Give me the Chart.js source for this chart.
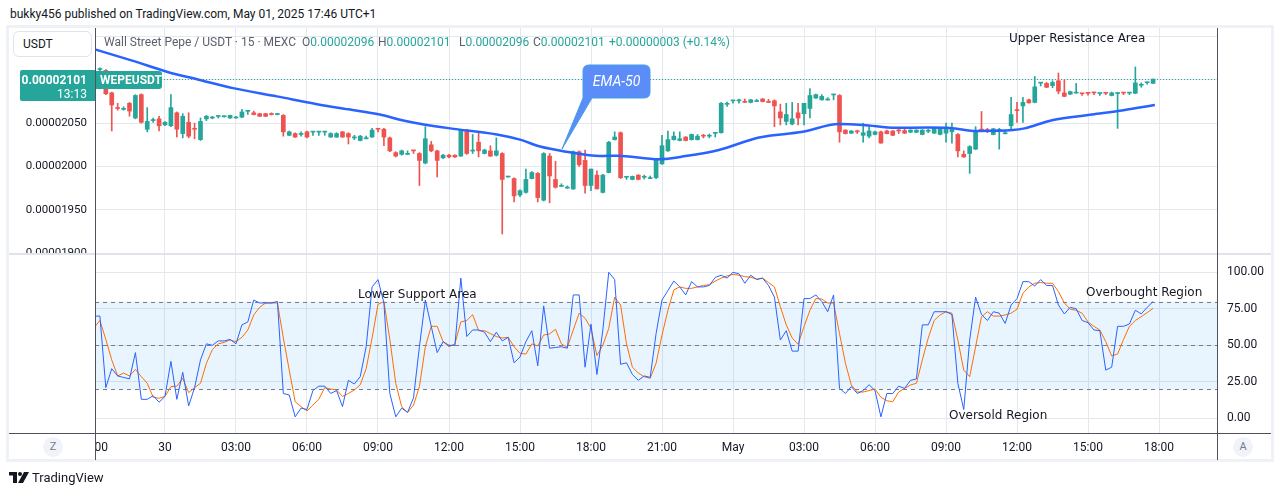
<!DOCTYPE html>
<html>
<head>
<meta charset="utf-8">
<script src="https://cdn.jsdelivr.net/npm/chart.js@4.4.1/dist/chart.umd.min.js"></script>
<style>
  body { margin: 0; width: 1281px; height: 496px; background: #fff; position: relative; overflow: hidden;
         font-family: Roboto, "Liberation Sans", sans-serif; color: #131722; }
  .abs { position: absolute; white-space: nowrap; }
  .note { font-family: "DejaVu Sans", sans-serif; font-size: 12px; line-height: 14px; color: #131722; }
  .leg { font-size: 12px; line-height: 14px; top: 35px; color: #5d606b; }
  .leg b { font-weight: normal; color: #26a69a; }
  .circ { width: 20px; height: 20px; border-radius: 10px; background: #f0f3fa; color: #787b86;
          font-size: 11px; line-height: 20px; text-align: center; }
</style>
</head>
<body>
<div class="abs" style="left:10px;top:6px;font-size:12px;line-height:16px;">bukky456 published on TradingView.com, May 01, 2025 17:46 UTC+1</div>

<div class="abs" style="left:6px;top:25px;width:1268px;height:437px;border:3px solid #eef1f6;box-sizing:border-box;"></div>

<canvas id="main" class="abs" width="1262" height="225" style="left:9px;top:28px;"></canvas>
<div class="abs" style="left:9px;top:253px;width:1262px;height:2px;background:#e0e3eb;"></div>
<canvas id="stoch" class="abs" width="1262" height="205" style="left:9px;top:255px;"></canvas>

<!-- pane borders -->
<div class="abs" style="left:95px;top:28px;width:1px;height:432px;background:#50535e;"></div>
<div class="abs" style="left:1217px;top:28px;width:1px;height:432px;background:#50535e;"></div>
<div class="abs" style="left:9px;top:433px;width:1262px;height:1px;background:#50535e;"></div>

<!-- first, clipped time label -->
<div class="abs" style="left:96px;top:440px;width:20px;height:16px;overflow:hidden;">
  <span id="firstTime" class="abs" style="left:-18px;top:0;font-size:12px;line-height:14px;"></span>
</div>

<div class="abs" style="left:13px;top:31px;width:79px;height:26px;background:#fff;border:1px solid #e0e3eb;border-radius:6px;box-sizing:border-box;font-size:12px;line-height:24px;padding-left:9px;">USDT</div>

<div class="abs leg" style="left:104px;">Wall Street Pepe / USDT · 15 · MEXC</div>
<div class="abs leg" style="left:302px;">O<b>0.00002096</b></div>
<div class="abs leg" style="left:378px;">H<b>0.00002101</b></div>
<div class="abs leg" style="left:459px;">L<b>0.00002096</b></div>
<div class="abs leg" style="left:533px;">C<b>0.00002101</b></div>
<div class="abs leg" style="left:609px;"><b>+0.00000003 (+0.14%)</b></div>

<div class="abs" style="left:20px;top:70px;width:75px;height:31px;background:#26a69a;border-radius:2px 0 0 2px;color:#fff;font-size:12px;font-weight:bold;text-align:right;">
  <div style="position:absolute;right:8px;top:3px;line-height:14px;">0.00002101</div>
  <div style="position:absolute;right:8px;top:17px;line-height:14px;font-weight:normal;">13:13</div>
</div>
<div class="abs" style="left:96px;top:71px;width:66px;height:18px;background:#26a69a;border-radius:0 3px 3px 0;color:#fff;font-size:12px;font-weight:bold;line-height:18px;padding-left:4px;box-sizing:border-box;">WEPEUSDT</div>

<svg class="abs" style="left:0;top:0;" width="1281" height="496">
  <path d="M583,98 L583,71 Q583,65 589,65 L644,65 Q650,65 650,71 L650,92 Q650,98 644,98 L592,98 L562,149 Z"
        fill="#5b8cf7" stroke="#3e9fe8" stroke-width="1"/>
  <text x="616.5" y="86" text-anchor="middle" font-family="Roboto" font-style="italic" font-size="14" fill="#fff">EMA-50</text>
</svg>

<div class="abs note" style="left:1009px;top:31px;">Upper Resistance Area</div>
<div class="abs note" style="left:358px;top:287px;">Lower Support Area</div>
<div class="abs note" style="left:1086px;top:285px;">Overbought Region</div>
<div class="abs note" style="left:949px;top:408px;">Oversold Region</div>

<div class="abs circ" style="left:43px;top:437px;">Z</div>
<div class="abs circ" style="left:1233px;top:437px;">A</div>

<svg class="abs" style="left:9px;top:472px;" width="20" height="12">
  <path d="M0 0h8v11h-4v-7.5h-4z" fill="#131722"/>
  <circle cx="11" cy="2" r="2" fill="#131722"/>
  <path d="M15 0h5l-6 11h-5z" fill="#131722"/>
</svg>
<div class="abs" style="left:32px;top:470px;font-size:13px;line-height:16px;">TradingView</div>

<script>
// 15-minute candles, slot 0 = Apr 29 21:00; prices are x 1e-8 USDT
const firstSlot = 1;
const opens = [2112,2111,2085,2068,2066,2073,2056,2083,2043,2053,2055,2048,2047,2062,2038,2051,2043.5,2031,2055,2056,
  2057.8,2057.5,2056,2056,2057,2063.7,2062,2061,2061,2061,2060,2059,2036,2038,2037,2040,2039.7,2039.7,2039.7,2034,
  2034,2040,2038,2033,2030,2032,2034,2043.2,2043,2033,2016,2014,2014,2018.3,2015,2004,2025,2018,2010,2013,
  2013,2012,2042,2017.8,2028,2015,2018,2013,2015,1987.8,1986,1967,1970,1986,1992,1961,2012,1985,1977,1975,
  1974,2017,2007,1978,1990,1970,1993,2031,2039,1987.5,1985,1990,1987.5,1986,1987,2003,2018,2031,2030,2034,
  2031,2031,2035.2,2035,2038.3,2039,2071.8,2075.8,2075.8,2074.3,2074,2075,2078,2074.3,2076,2063,2052,2049,2062,2061,
  2067,2079,2077,2076.8,2082.7,2082,2042,2038.5,2040.2,2036,2035,2037,2040,2041,2041,2041.3,2041.5,2039.6,2039.5,2037,
  2040.7,2038.5,2037,2038.5,2040,2037,2014,2015,2020,2042.2,2041.7,2037,2041.8,2037.8,2047,2064.8,2070,2077,2074,2096.3,
  2096,2093.5,2099,2085,2083.5,2084.8,2084.2,2084.8,2085.2,2084.3,2084.8,2082,2084.3,2085,2084.8,2084.6,2093.8,2096.8,2096];
const highs = [2114,2112,2086,2073,2069,2074,2083,2084,2068,2056,2058,2052,2083,2063,2061,2062,2050,2056,2059,2058,
  2058.3,2058.5,2059.5,2058,2066,2064.2,2064,2061.5,2061.5,2062,2061.5,2060,2041,2039,2040,2041,2040.2,2040.2,2040.2,2039,
  2039,2040.5,2039,2036,2036,2035,2044,2043.5,2044,2034,2017,2019,2018,2018.5,2016,2046,2029,2019,2014,2014,
  2013.5,2043,2043,2037,2039,2020,2024,2033,2016,1988.5,1987,1973,1997,1994,1993,2016,2015,2006,1980,1977.5,
  2018,2018,2019,1997,1995,1991,2029,2040,2040,1988,1989,1990.5,1990,1989,2009,2036,2041,2040,2040,2034.5,
  2037.5,2037,2037,2037.5,2038.6,2074,2074.5,2076.3,2078,2078,2077.5,2077.5,2078.5,2077.5,2077,2072,2073,2074,2073,2073,
  2090,2083.5,2083,2079.5,2083.1,2083,2042.5,2041.5,2042,2050,2046,2041,2041,2042,2041.5,2044,2044,2042.5,2042.5,2042.5,
  2043,2044.5,2044.5,2050,2050,2038,2018,2024,2046,2063.5,2044,2044,2044,2042,2080,2074,2080,2078,2104,2096.8,
  2097,2099,2108,2100,2087,2096,2084.4,2085.5,2085.4,2084.6,2085,2086,2085.5,2085.2,2085.2,2115,2096.5,2097.2,2101];
const lows = [2110,2083,2041,2065,2065,2058,2055,2050,2040,2051,2041,2047,2046,2034,2033,2033,2032,2030,2053,2055,
  2056,2057,2055.5,2055.8,2056.5,2060,2059.5,2057.5,2057.5,2059.5,2059.5,2035,2035.5,2033.5,2035,2033,2036,2036,2036,2033.5,
  2033.5,2033.5,2026,2031,2029.5,2031.8,2033.5,2040,2024,2017,2011,2013,2013.8,2015,1978,2003,2017,1988,2009,2010,
  2010.5,2011.5,2014,2015,2011,2014.5,2011.5,2012,1922,1987.5,1959,1965,1969,1985.5,1959,1960,1958,1975,1976.8,1974.8,
  1973.5,2000,1969,1972,1974,1969.5,1992.5,2030.5,1986,1985,1984.5,1984.5,1985.5,1985.8,1986,2002.5,2017.5,2030.5,2029.5,2029.5,
  2030.5,2030.5,2033,2033,2034,2038.5,2069.5,2073,2073,2074,2073.5,2074.8,2074.5,2074,2046,2048,2048,2048,2048,2048,
  2056,2078.5,2076.5,2076.6,2077,2028,2037.5,2038,2038,2028,2033,2036.5,2027,2037.5,2035.5,2038,2038,2039,2039,2036.5,
  2039,2038,2036.5,2028,2027,2011,2010.5,1992,2019.5,2040,2039,2036.5,2020,2037.6,2042,2051,2051,2073,2073.5,2093,
  2091,2091,2084,2080.5,2083,2084.6,2082,2082.5,2083,2082,2083,2081.5,2044,2083,2083,2084,2091.5,2095,2096];
const closes = [2113,2084,2071,2067,2066.5,2064,2082,2051,2052,2053.5,2047,2051,2068,2043,2058,2035,2043,2052,2058,2057,
  2058.3,2058,2059,2056.3,2063,2064,2060,2058,2058,2060,2060.5,2040,2040,2034,2037.5,2034,2040,2040,2040,2038,
  2038,2034,2034,2033.5,2035,2032.3,2042,2043,2034,2018,2012,2018,2014.3,2018,2007,2032,2018,2007,2013,2011,
  2011,2042,2015,2018.3,2018,2019,2012,2018,1985,1988.2,1966,1972,1985,1993,1964,2015,1989,1976,1977.3,1975.3,
  2017,2002,1978,1997,1974,1990,2028,2034,1987,1988,1988.5,1985,1988,1986.3,2008,2024,2031,2035,2032,2030,
  2037,2035,2035,2035.4,2038.6,2073,2072.2,2076.2,2076.2,2074,2077,2075.3,2075,2074,2070,2056,2060,2055,2056,2073,
  2082,2083,2081,2077.1,2083,2040,2038,2041,2040,2039,2041,2040,2027,2038,2036,2041,2038.5,2042,2042,2042,
  2041.1,2044,2044,2044,2043,2018,2011,2023,2040,2042,2041.4,2043.5,2042.2,2038.1,2060,2064.5,2074,2073.5,2092,2096.7,
  2091.5,2097,2087,2081,2086.5,2085.2,2084,2084.5,2085,2084.6,2084.6,2085,2084.6,2084.8,2085,2096.5,2094.2,2097.2,2101];

// EMA-50 read at selected slots
const emaSlots = [0.3,6.6,12.3,17.9,23.5,30.9,37.7,43,48.3,51.7,54.6,60.2,68.1,72,75.4,79.9,85.5,88.4,95.5,100,
  105.6,112.4,119.8,125.9,130,135.5,141,144.7,149.2,155.3,157.3,161.9,168.7,174,179.3];
const emaValues = [2135,2122,2109.5,2100,2090.5,2081,2072,2066,2060,2054,2050,2044,2037,2031,2023,2017,2012,2012.5,2008.4,2012,
  2019,2033.5,2040,2049,2048,2044.6,2045,2044.5,2041,2042,2044,2053.5,2060,2065,2071];

// Stoch RSI, one value per slot from slot 0
const stochK = [70,70,21,34,29,28,27,45,13,13,15.5,11,15,39,13,31.5,8.5,21,40,51,
  50,53,53,54,51,64,66,81,79,79,79,80,17,16,1,7,6,19,22,22,
  17,19,8,26,23.5,28.5,49,90,95,79,17,1,7,4,14,49,81,63,45,52.5,
  50,50,96,56,60.5,60.5,59,52.5,59,53,55.5,38,42,52.5,60,36,77,48,48.5,49,
  48,84.5,84.5,35,64.5,30,60.5,100,95,37,38,30,26,29,28,58,81,87.5,94,90,
  84.5,93.6,90,90,91,96.5,98,96,100,99,92.5,98,95,96,91,83,53.6,60,46,46,
  82,82,84.5,80,73,84.5,20.5,17,21.7,17,19,23,19,1,17,17,22,20.5,26,27,
  64,64,73,73,73,71,24,6,53.6,83,71,67,73,72,65,77.6,82,93.6,93.6,90.6,
  95,91,91,77.6,71.5,76,75,67,65.5,60.5,60,33,35,63,63,64.6,74,71.5,76,80];
const stochD = [62,67,54,40,29,31,29,33.5,28.5,24,14.4,13.7,15,21.7,22,27.4,17.6,21,24,37.7,
  47,51,52,53.7,52.5,55.5,60.5,70.8,76,79,79,79,55,33,11.4,8,5,9,13,21,
  20,19.4,15,17,19.4,23,34,55,78,80,54,24,8,4,9,21.7,49,63,63,52.5,
  49,51,66,67,71,60,60,58,56,55,55.5,49,44.5,44,51,49.5,57,57.8,61,51,
  48.6,60.5,72,68.5,61.6,43,50,61.6,83,77.6,51,35,31,28.5,27.4,37.7,57,74,88,90,
  89,89,90,91,91.5,94,96,97.5,98.6,98,97,96.6,95.4,96,93,90,76.5,64,55,50.7,
  62.8,74,82,81.7,79,79,58,37.7,22.8,18,18,19,20,14.4,12,11.4,18,20.5,22.8,24,
  40,55,67,70.8,73,72,53.6,33,28.5,49,69.6,73,70,70,70.8,72,74.7,85.6,90,92.5,
  93,92.5,92.5,86.8,79,74.7,74,72,66,63,60.5,52.5,42.7,44,54,63,67,69.6,72.4,75.3];

const timeLabels = ['21:00','30','03:00','06:00','09:00','12:00','15:00','18:00','21:00','May','03:00','06:00','09:00','12:00','15:00','18:00'];
const slotsPerLabel = 12;
const priceTicks = [1900,1950,2000,2050,2100,2150];
const stochTicks = [0,25,50,75,100];
const stochLevels = [20,50,80];

const green = '#26a69a', red = '#ef5350', gridColor = '#e3e8ef';
const xMin = 0.17, xMax = 189.8;

document.getElementById('firstTime').textContent = timeLabels[0];

const candleColors = opens.map((o, i) => closes[i] >= o ? green : red);
const bodies = opens.map((o, i) => ({ x: firstSlot + i, y: [o, closes[i]] }));
const wicks = opens.map((o, i) => ({ x: firstSlot + i, y: [lows[i], highs[i]] }));
const lastClose = closes[closes.length - 1];

const timeTickBuild = s => { s.ticks = timeLabels.slice(1).map((_, i) => ({ value: (i + 1) * slotsPerLabel })); };

const lastPriceLine = {
  id: 'lastPriceLine',
  beforeDatasetsDraw(chart) {
    const { ctx, chartArea: a, scales } = chart;
    const y = Math.round(scales.y.getPixelForValue(lastClose)) + 0.5;
    ctx.save();
    ctx.strokeStyle = green; ctx.lineWidth = 1; ctx.setLineDash([1, 2]);
    ctx.beginPath(); ctx.moveTo(a.left, y); ctx.lineTo(a.right, y); ctx.stroke();
    ctx.restore();
  }
};

new Chart(document.getElementById('main'), {
  data: {
    datasets: [
      { type: 'line', data: emaSlots.map((s, i) => ({ x: s, y: emaValues[i] })), borderColor: '#2962ff',
        borderWidth: 2.5, pointRadius: 0, cubicInterpolationMode: 'monotone' },
      { type: 'bar', data: bodies, backgroundColor: candleColors, barThickness: 4, grouped: false, minBarLength: 1 },
      { type: 'bar', data: wicks, backgroundColor: candleColors, barThickness: 1, grouped: false }
    ]
  },
  options: {
    responsive: false, animation: false, events: [],
    layout: { padding: { left: 0, right: 54, top: 0, bottom: 0 } },
    plugins: { legend: { display: false }, tooltip: { enabled: false } },
    scales: {
      x: {
        type: 'linear', min: xMin, max: xMax, offset: false,
        afterBuildTicks: timeTickBuild,
        ticks: { display: false },
        grid: { color: gridColor, drawTicks: false, offset: false },
        border: { display: false },
        afterFit(s) { s.height = 0; s.paddingLeft = 0; s.paddingRight = 0; }
      },
      y: {
        position: 'left', min: 1900, max: 2160,
        afterBuildTicks(s) { s.ticks = priceTicks.map(v => ({ value: v })); },
        ticks: { color: '#131722', font: { family: 'Roboto', size: 11.5 }, padding: 8,
                 callback: v => (v * 1e-8).toFixed(8) },
        grid: { color: gridColor, drawTicks: false },
        border: { display: false },
        afterFit(s) { s.width = 86; s.paddingTop = 0; s.paddingBottom = 0; }
      }
    }
  },
  plugins: [lastPriceLine]
});

const stochBand = {
  id: 'stochBand',
  beforeDatasetsDraw(chart) {
    const { ctx, chartArea: a, scales } = chart;
    const yTop = scales.y.getPixelForValue(stochLevels[2]);
    const yBot = scales.y.getPixelForValue(stochLevels[0]);
    ctx.save();
    ctx.fillStyle = 'rgba(33,150,243,0.1)';
    ctx.fillRect(a.left, yTop, a.right - a.left, yBot - yTop);
    ctx.strokeStyle = '#787b86'; ctx.lineWidth = 1; ctx.setLineDash([4, 4]);
    stochLevels.forEach(l => {
      const y = Math.round(scales.y.getPixelForValue(l)) + 0.5;
      ctx.beginPath(); ctx.moveTo(a.left, y); ctx.lineTo(a.right, y); ctx.stroke();
    });
    ctx.restore();
  }
};

new Chart(document.getElementById('stoch'), {
  type: 'line',
  data: {
    datasets: [
      { data: stochK.map((v, i) => ({ x: i, y: v })), borderColor: '#2962ff', borderWidth: 1, pointRadius: 0 },
      { data: stochD.map((v, i) => ({ x: i, y: v })), borderColor: '#ff6d00', borderWidth: 1, pointRadius: 0 }
    ]
  },
  options: {
    responsive: false, animation: false, events: [],
    layout: { padding: { left: 86, right: 0, top: 0, bottom: 0 } },
    plugins: { legend: { display: false }, tooltip: { enabled: false } },
    scales: {
      x: {
        type: 'linear', min: xMin, max: xMax,
        afterBuildTicks: timeTickBuild,
        ticks: { color: '#131722', font: { family: 'Roboto', size: 12 }, padding: 8, maxRotation: 0, autoSkip: false,
                 callback: v => timeLabels[Math.round(v / slotsPerLabel)] },
        grid: { color: gridColor, drawTicks: false },
        border: { display: false },
        afterFit(s) { s.height = 27; s.paddingLeft = 0; s.paddingRight = 0; }
      },
      y: {
        position: 'right', min: -10.07, max: 111.85,
        afterBuildTicks(s) { s.ticks = stochTicks.map(v => ({ value: v })); },
        ticks: { color: '#131722', font: { family: 'Roboto', size: 12 }, padding: 10, callback: v => v.toFixed(2) },
        grid: { color: gridColor, drawTicks: false },
        border: { display: false },
        afterFit(s) { s.width = 54; s.paddingTop = 0; s.paddingBottom = 0; }
      }
    }
  },
  plugins: [stochBand]
});
</script>
</body>
</html>
